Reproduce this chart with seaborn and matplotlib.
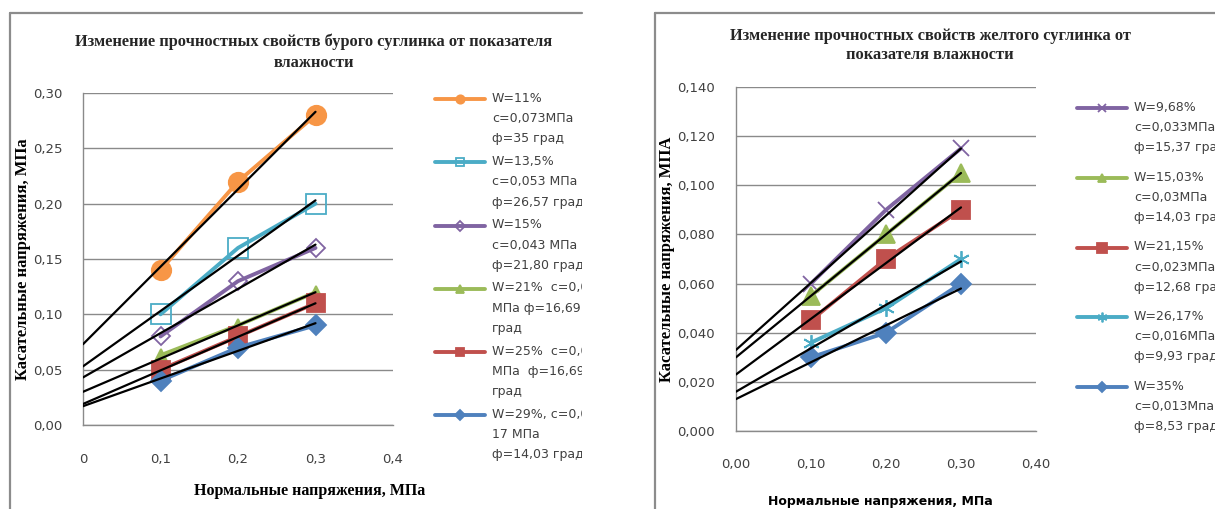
import numpy as np
import matplotlib
matplotlib.use("Agg")
import matplotlib.pyplot as plt
import seaborn as sns
from matplotlib.lines import Line2D
from matplotlib.legend_handler import HandlerLine2D
from matplotlib.transforms import Bbox, TransformedBbox

# ---------------- DATA ----------------
sigma = [0.1, 0.2, 0.3]

# left chart: brown loam
left_labels = [
    "W=11%\nc=0,073МПа\nф=35 град",
    "W=13,5%\nc=0,053 МПа\nф=26,57 град",
    "W=15%\nc=0,043 МПа\nф=21,80 град",
    "W=21%  c=0,03\nМПа ф=16,69\nград",
    "W=25%  c=0,02\nМПа  ф=16,69\nград",
    "W=29%, c=0,00\n17 МПа\nф=14,03 град",
]
tau_w11 = [0.14, 0.22, 0.28]
tau_w13 = [0.10, 0.16, 0.20]
tau_w15 = [0.08, 0.13, 0.16]
tau_w21 = [0.063, 0.09, 0.12]
tau_w25 = [0.05, 0.08, 0.11]
tau_w29 = [0.04, 0.07, 0.09]
left_series = [tau_w11, tau_w13, tau_w15, tau_w21, tau_w25, tau_w29]
# trend lines (value at sigma=0 and sigma=0.3)
left_trend_x = [0.0, 0.3]
left_trend_start = [0.073, 0.053, 0.043, 0.030, 0.019, 0.017]
left_trend_end = [0.283, 0.203, 0.163, 0.120, 0.110, 0.092]

# right chart: yellow loam
right_labels = [
    "W=9,68%\nc=0,033МПа\nф=15,37 град",
    "W=15,03%\nc=0,03МПа\nф=14,03 град",
    "W=21,15%\nc=0,023МПа\nф=12,68 град",
    "W=26,17%\nc=0,016МПа\nф=9,93 град",
    "W=35%\nc=0,013Мпа\nф=8,53 град",
]
tau_y968 = [0.060, 0.090, 0.115]
tau_y1503 = [0.055, 0.080, 0.105]
tau_y2115 = [0.045, 0.070, 0.090]
tau_y2617 = [0.036, 0.050, 0.070]
tau_y35 = [0.030, 0.040, 0.060]
right_series = [tau_y968, tau_y1503, tau_y2115, tau_y2617, tau_y35]
right_trend_x = [0.0, 0.3]
right_trend_start = [0.033, 0.030, 0.023, 0.016, 0.013]
right_trend_end = [0.115, 0.105, 0.091, 0.069, 0.058]

left_xticks = [0, 0.1, 0.2, 0.3, 0.4]
left_xticklabels = ["0", "0,1", "0,2", "0,3", "0,4"]
left_yticks = [0, 0.05, 0.10, 0.15, 0.20, 0.25, 0.30]
left_yticklabels = ["0,00", "0,05", "0,10", "0,15", "0,20", "0,25", "0,30"]
right_xticks = [0, 0.1, 0.2, 0.3, 0.4]
right_xticklabels = ["0,00", "0,10", "0,20", "0,30", "0,40"]
right_yticks = [0, 0.02, 0.04, 0.06, 0.08, 0.10, 0.12, 0.14]
right_yticklabels = ["0,000", "0,020", "0,040", "0,060", "0,080", "0,100", "0,120", "0,140"]

left_title = "Изменение прочностных свойств бурого суглинка от показателя\nвлажности"
right_title = "Изменение прочностных свойств желтого суглинка от\nпоказателя влажности"
left_xlabel = "Нормальные напряжения, МПа"
left_ylabel = "Касательные напряжения, МПа"
right_xlabel = "Нормальные напряжения, МПа"
right_ylabel = "Касательные напряжения, МПА"

# ---------------- STYLE ----------------
ORANGE, AQUA, PURPLE, GREEN, RED, BLUE = "#F79646", "#4BACC6", "#8064A2", "#9BBB59", "#C0504D", "#4F81BD"
left_styles = [
    dict(color=ORANGE, marker="o", ms=14, fill=True, lms=6),
    dict(color=AQUA, marker="s", ms=14, fill=False, lms=6),
    dict(color=PURPLE, marker="D", ms=9, fill=False, lms=5),
    dict(color=GREEN, marker="^", ms=8, fill=True, lms=6),
    dict(color=RED, marker="s", ms=13, fill=True, lms=6),
    dict(color=BLUE, marker="D", ms=10, fill=True, lms=5),
]
right_styles = [
    dict(color=PURPLE, marker="x", ms=11, fill=True, lms=6),
    dict(color=GREEN, marker="^", ms=13, fill=True, lms=6),
    dict(color=RED, marker="s", ms=13, fill=True, lms=7),
    dict(color=AQUA, marker=(6, 2, 0), ms=12, fill=True, lms=7),
    dict(color=BLUE, marker="D", ms=10, fill=True, lms=5),
]

sns.set_style("white")
plt.rcParams["font.family"] = ["DejaVu Sans"]

W, H = 1215, 509
fig = plt.figure(figsize=(W / 100, H / 100), dpi=100)

GRID = "#8a8a8a"
TICKC = "#404040"
SERIF = ["Liberation Serif", "DejaVu Serif"]


class FirstLineHandler(HandlerLine2D):
    def __init__(self, shift_pt, sizes, **kw):
        super().__init__(**kw)
        self.shift_pt = shift_pt
        self.sizes = sizes

    def create_artists(self, legend, orig_handle, xdescent, ydescent, width, height, fontsize, trans):
        arts = super().create_artists(legend, orig_handle, xdescent, ydescent, width, height, fontsize, trans)
        for a in arts:
            a.set_ydata(np.asarray(a.get_ydata(), float) + self.shift_pt)
            a.set_markersize(self.sizes.get(orig_handle, 6))
        return arts


def draw_chart(ax, series, labels, styles, tx, tstart, tend):
    sizes = {}
    for ys, lab, st in zip(series, labels, styles):
        mfc = st["color"] if st["fill"] else "none"
        sns.lineplot(x=sigma, y=ys, ax=ax, color=st["color"], lw=2.8,
                     marker=st["marker"], markersize=st["ms"],
                     markerfacecolor=mfc, markeredgecolor=st["color"],
                     markeredgewidth=1.3, label=lab, zorder=3, legend=False)
        sizes[ax.lines[-1]] = st["lms"]
    for s, e in zip(tstart, tend):
        sns.lineplot(x=tx, y=[s, e], ax=ax, color="black", lw=1.6,
                     zorder=5, legend=False, label="_nolegend_")
    return sizes


def style_axes(ax, xt, xtl, yt, ytl, ylim):
    ax.set_xlim(0, 0.4)
    ax.set_ylim(*ylim)
    ax.set_xticks(xt, xtl)
    ax.set_yticks(yt, ytl)
    ax.grid(axis="y", color=GRID, lw=1.0)
    ax.grid(axis="x", visible=False)
    for sp in ["top", "right"]:
        ax.spines[sp].set_visible(False)
    for sp in ["left", "bottom"]:
        ax.spines[sp].set_color(GRID)
        ax.spines[sp].set_linewidth(1.0)
    ax.set_facecolor("white")


# ---------------- LEFT ----------------
axL = fig.add_axes([83 / W, 1 - 425 / H, 310 / W, 332 / H])
sizesL = draw_chart(axL, left_series, left_labels, left_styles,
                    left_trend_x, left_trend_start, left_trend_end)
style_axes(axL, left_xticks, left_xticklabels, left_yticks, left_yticklabels, (0, 0.30))
axL.tick_params(axis="x", direction="in", length=5, color=GRID, pad=20, labelsize=9.5, labelcolor=TICKC)
axL.tick_params(axis="y", length=0, pad=15, labelsize=9.5, labelcolor=TICKC)
axL.set_xlabel(left_xlabel, family=SERIF, fontweight="bold", fontsize=11.5, color="black")
axL.xaxis.set_label_coords(0.73, -0.20)
axL.xaxis.label.set_va("center")
axL.set_ylabel(left_ylabel, family=SERIF, fontweight="bold", fontsize=12, color="black")
axL.yaxis.set_label_coords(-0.194, 0.5)
axL.yaxis.label.set_va("center")

# ---------------- RIGHT ----------------
axR = fig.add_axes([736 / W, 1 - 431 / H, 300 / W, 344 / H])
sizesR = draw_chart(axR, right_series, right_labels, right_styles,
                    right_trend_x, right_trend_start, right_trend_end)
style_axes(axR, right_xticks, right_xticklabels, right_yticks, right_yticklabels, (0, 0.14))
axR.tick_params(axis="x", length=0, pad=19.5, labelsize=9.5, labelcolor=TICKC)
axR.tick_params(axis="y", length=0, pad=15, labelsize=9.5, labelcolor=TICKC)
axR.set_xlabel(right_xlabel, fontweight="bold", fontsize=9, color="black")
axR.xaxis.set_label_coords((880 - 736) / 300, (431 - 501) / 344)
axR.xaxis.label.set_va("center")
axR.set_ylabel(right_ylabel, family=SERIF, fontweight="bold", fontsize=12, color="black")
axR.yaxis.set_label_coords((667 - 736) / 300, 0.5)
axR.yaxis.label.set_va("center")

# ---------------- TITLES ----------------
fig.text(314 / W, 1 - 52 / H, left_title, ha="center", va="center", family=SERIF,
         fontweight="bold", fontsize=11.8, linespacing=1.41)
fig.text(930 / W, 1 - 45.5 / H, right_title, ha="center", va="center", family=SERIF,
         fontweight="bold", fontsize=11.8, linespacing=1.30)

# ---------------- LEGENDS ----------------
def make_legend(ax, sizes, x0, y0, lspacing, shift):
    handles, labels = ax.get_legend_handles_labels()
    leg = ax.legend(handles, labels, loc="upper left",
                    bbox_to_anchor=(x0 / W, 1 - y0 / H), bbox_transform=fig.transFigure,
                    frameon=False, borderpad=0, borderaxespad=0, fontsize=9,
                    handlelength=4.0, handletextpad=0.55, labelspacing=lspacing,
                    handler_map={Line2D: FirstLineHandler(shift, sizes)})
    for t in leg.get_texts():
        t.set_color(TICKC)
        t.set_linespacing(1.72)
    return leg

legL = make_legend(axL, sizesL, 435, 92, 0.78, 14.4)
clipL = TransformedBbox(Bbox.from_extents(0, 0, 582 / W, 1), fig.transFigure)
for t in legL.get_texts():
    t.set_clip_box(clipL)
    t.set_clip_on(True)
legR = make_legend(axR, sizesR, 1077, 101, 1.30, 14.4)

# ---------------- PANEL FRAMES ----------------
FR = "#8c8c8c"
fig.add_artist(Line2D([10 / W, 10 / W], [0, 1 - 13 / H], transform=fig.transFigure, color=FR, lw=1.6))
fig.add_artist(Line2D([10 / W, 582 / W], [1 - 13 / H, 1 - 13 / H], transform=fig.transFigure, color=FR, lw=1.6))
fig.add_artist(Line2D([655 / W, 655 / W], [0, 1 - 13 / H], transform=fig.transFigure, color=FR, lw=1.6))
fig.add_artist(Line2D([655 / W, 1], [1 - 13 / H, 1 - 13 / H], transform=fig.transFigure, color=FR, lw=1.6))

fig.savefig("out.png", dpi=100, facecolor="white")
